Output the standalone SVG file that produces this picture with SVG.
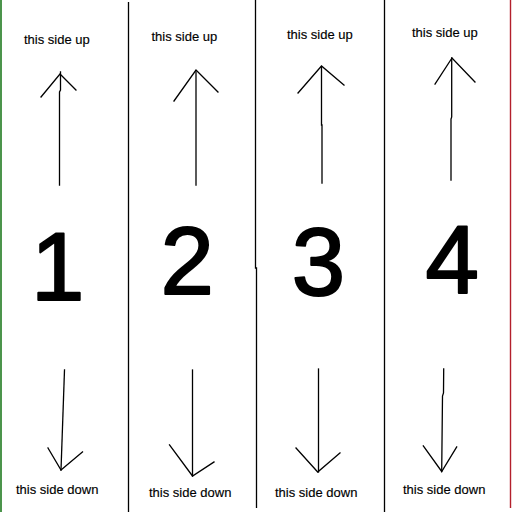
<svg xmlns="http://www.w3.org/2000/svg" width="512" height="512" viewBox="0 0 512 512">
<style>
.edge{fill:none;stroke:#000;stroke-width:1.3;stroke-linecap:square}
.div{fill:none;stroke:#000;stroke-width:1.3}
.lbl{font-family:"Liberation Sans",Arial,sans-serif;font-size:13px;fill:#000;stroke:#000;stroke-width:0.15}
.num{font-family:"Liberation Sans",Arial,sans-serif;font-size:96px;fill:#000;stroke:#000;stroke-width:2;stroke-linejoin:round}
</style>
<rect width="512" height="512" fill="#fff"/>
<g id="frame">
<line x1="1" y1="0" x2="1" y2="512" stroke="#1f7a1f" stroke-width="1.6"/>
<line x1="510.5" y1="0" x2="510.5" y2="508" stroke="#b3202c" stroke-width="1.4"/>
<line class="div" x1="128.5" y1="2" x2="128.5" y2="512"/>
<polyline class="div" points="255.5,0 255.5,268 256.5,268 256.5,508"/>
<line class="div" x1="384.5" y1="0" x2="384.5" y2="512"/>
</g>
<g id="panel1">
<text class="lbl" x="24" y="44">this side up</text>
<text class="num" x="31" y="299.5">1</text>
<text class="lbl" x="16" y="493.5">this side down</text>
</g>
<g id="panel2">
<text class="lbl" x="151.5" y="41">this side up</text>
<text class="num" x="160.5" y="294">2</text>
<text class="lbl" x="149" y="496.5">this side down</text>
</g>
<g id="panel3">
<text class="lbl" x="287" y="38.5">this side up</text>
<text class="num" x="291.7" y="295">3</text>
<text class="lbl" x="275" y="496.5">this side down</text>
</g>
<g id="panel4">
<text class="lbl" x="412" y="37">this side up</text>
<text class="num" x="425.6" y="293">4</text>
<text class="lbl" x="403" y="493.5">this side down</text>
</g>
<g id="connectors">
<polyline class="edge" points="59.5,185 59.5,92 60.5,90 60.5,72"/>
<polyline class="edge" points="41,97 60,74 76,90"/>
<line class="edge" x1="196" y1="185" x2="196" y2="72"/>
<polyline class="edge" points="174,101 196,70 218,92"/>
<polyline class="edge" points="322,183 322,125 321.5,125 321.5,67"/>
<polyline class="edge" points="298,93 321.5,66 344,85"/>
<polyline class="edge" points="451,180 451,119 451.7,117 451.7,58"/>
<polyline class="edge" points="435,84 452,58 475,82"/>
<line class="edge" x1="64.5" y1="370" x2="61" y2="470"/>
<polyline class="edge" points="48,448 61,470 82.5,452"/>
<line class="edge" x1="192.5" y1="370" x2="192.5" y2="476"/>
<polyline class="edge" points="169.5,445 192.5,476 214,462"/>
<line class="edge" x1="318.5" y1="369" x2="318.5" y2="472"/>
<polyline class="edge" points="296,448 317.7,472 340,453"/>
<polyline class="edge" points="443.7,369 443.5,393 442.5,396 441.7,471.5"/>
<polyline class="edge" points="423.3,446 441.7,471.5 456.7,447"/>
</g>
</svg>
